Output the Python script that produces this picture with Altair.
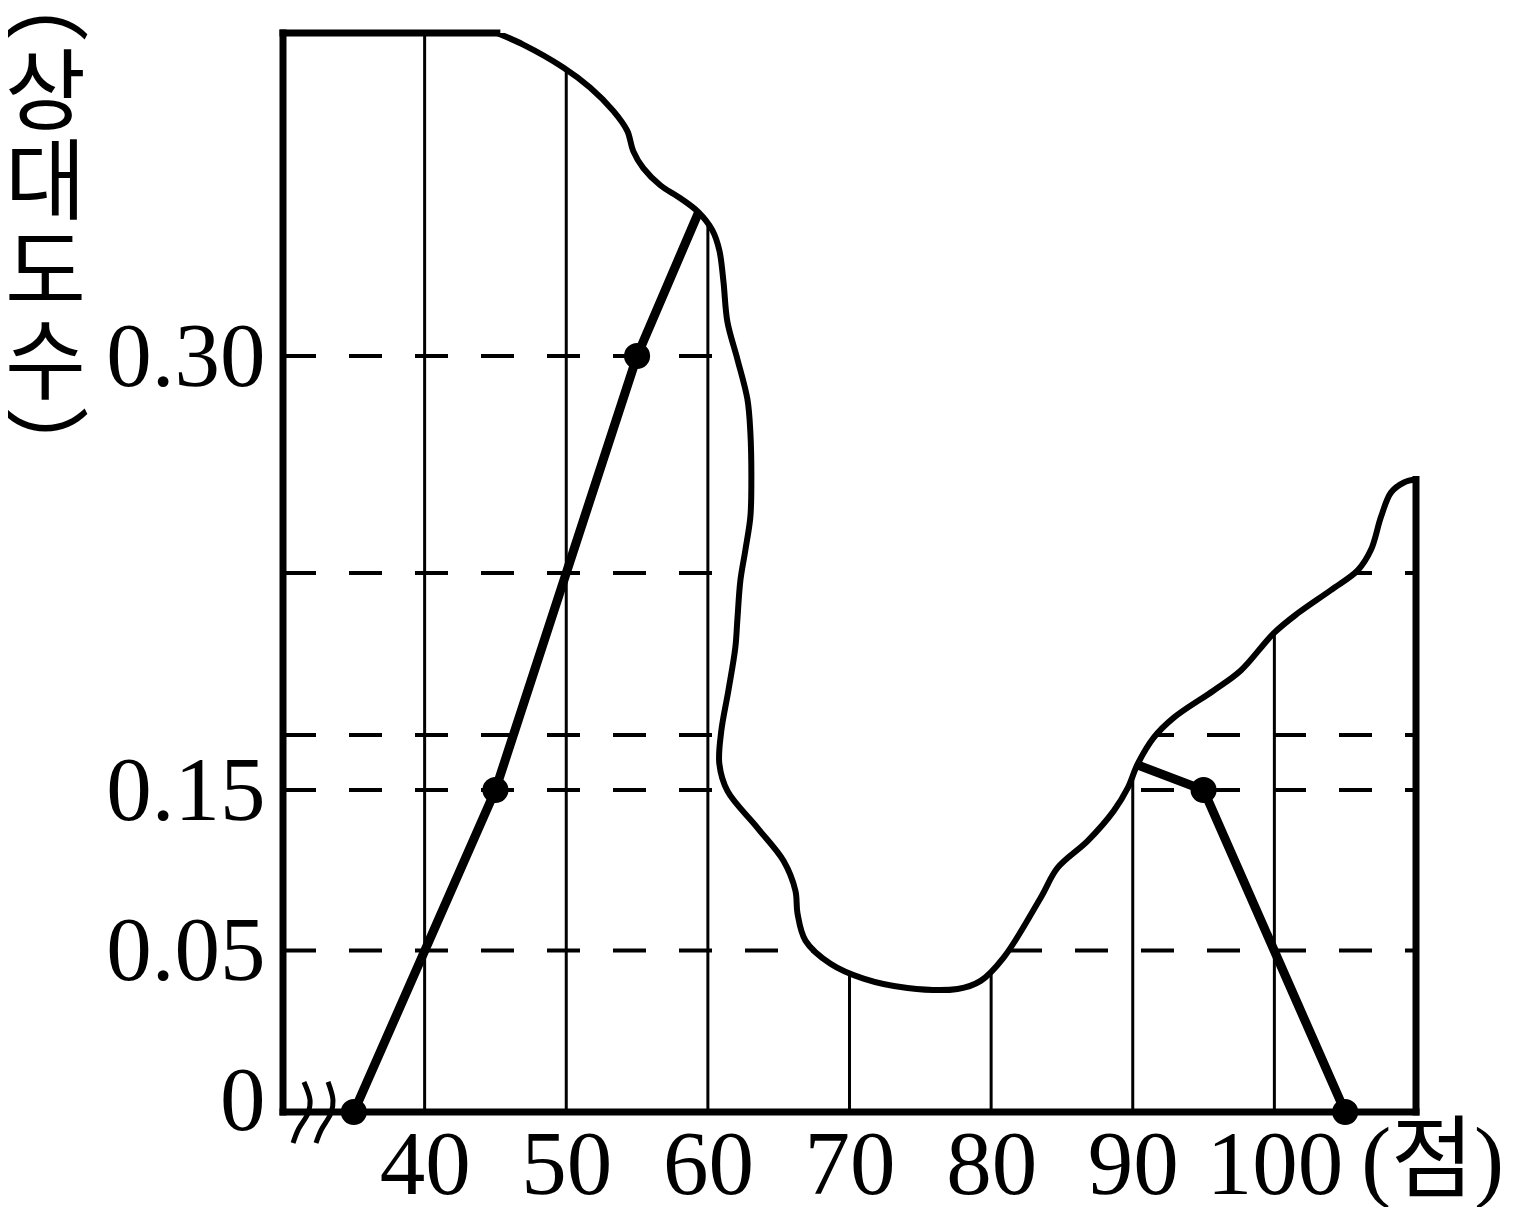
import altair as alt
import pandas as pd

# ---------------- data ----------------
x_ticks = [40, 50, 60, 70, 80, 90, 100]
y_ticks = [0, 0.05, 0.15, 0.30]
dash_levels = [0.05, 0.15, 0.169, 0.225, 0.30]
x_min, x_max = 30, 110
y_top = 0.4116

# frequency polygon (visible points)
point_x = [35, 45, 55, 95, 105]
point_y = [0, 0.15, 0.30, 0.15, 0]
# polygon line pieces (last/first points continue under the torn part)
left_line_x = [35, 45, 55, 62]
left_line_y = [0, 0.15, 0.30, 0.38]
right_line_x = [88, 95, 105]
right_line_y = [0.163, 0.15, 0]

# outline of the torn (hidden) region
blot_x = [45.1, 46.96, 49.79, 51.70, 53.32, 54.31, 54.73, 55.44, 56.64, 58.06,
          59.33, 60.32, 60.81, 61.10, 61.38, 62.08, 62.79, 63.00, 63.07, 63.00,
          62.65, 62.30, 62.08, 61.94, 61.45, 60.95, 60.81, 61.38, 63.50, 65.34,
          66.18, 66.33, 66.89, 68.66, 70.99, 74.10, 77.63, 79.26, 80.88, 83.50,
          84.70, 86.82, 88.66, 89.65, 90.35, 91.48, 92.90, 95.72, 97.63, 99.96,
          101.66, 103.99, 105.90, 106.82, 107.53, 108.23, 109.15, 110.0]
blot_y = [0.4116, 0.4076, 0.3997, 0.3927, 0.3847, 0.3778, 0.3708, 0.3649, 0.3590, 0.3545,
          0.3497, 0.3434, 0.3365, 0.3257, 0.3118, 0.2990, 0.2851, 0.2736, 0.2563, 0.2444,
          0.2330, 0.2226, 0.2087, 0.1993, 0.1844, 0.1705, 0.1590, 0.1494, 0.1264, 0.1059,
          0.0873, 0.0730, 0.0562, 0.0459, 0.0413, 0.0384, 0.0381, 0.0406, 0.0478, 0.0829,
          0.1016, 0.1183, 0.1370, 0.1507, 0.1590, 0.1681, 0.1750, 0.1844, 0.1913, 0.2042,
          0.2111, 0.2191, 0.2260, 0.2330, 0.2444, 0.2528, 0.2563, 0.2573]
# extra corner points that close the torn region along the right and top edges
blot_close_x = [110.0, 110.0, 110.0]
blot_close_y = [0.30, 0.36, y_top]

# axis break marks near the origin
break1_x = [31.48, 31.91, 31.77, 31.06, 30.71]
break2_x = [33.18, 33.53, 33.39, 32.69, 32.33]
break_y = [0.0093, 0.0037, -0.0003, -0.0056, -0.0096]

# frame pieces (left, bottom, top stub, right stub)
frame_x0 = [30, 30, 30, 110]
frame_x1 = [30, 110, 45.1, 110]
frame_y0 = [0, 0, y_top, 0]
frame_y1 = [y_top, 0, y_top, 0.2573]

# ---------------- tables ----------------
df_grid = pd.DataFrame({"x": x_ticks})
df_dash = pd.DataFrame({"y": dash_levels, "x0": x_min, "x1": x_max})
df_lines = pd.DataFrame({
    "x": left_line_x + right_line_x,
    "y": left_line_y + right_line_y,
    "seg": ["L"] * len(left_line_x) + ["R"] * len(right_line_x),
    "ord": list(range(len(left_line_x))) + list(range(len(right_line_x))),
})
df_points = pd.DataFrame({"x": point_x, "y": point_y})
df_blot = pd.DataFrame({"x": blot_x, "y": blot_y, "i": range(len(blot_x))})
df_blot_fill = pd.DataFrame({"x": blot_x + blot_close_x, "y": blot_y + blot_close_y,
                             "i": range(len(blot_x) + len(blot_close_x))})
df_break = pd.DataFrame({
    "x": break1_x + break2_x,
    "y": break_y + break_y,
    "g": ["a"] * len(break1_x) + ["b"] * len(break2_x),
    "i": list(range(len(break1_x))) * 2,
})
df_frame = pd.DataFrame({"x0": frame_x0, "x1": frame_x1, "y0": frame_y0, "y1": frame_y1})

# ---------------- scales / axes ----------------
SERIF = "Liberation Serif"
xscale = alt.Scale(domain=[x_min, x_max], nice=False, zero=False)
yscale = alt.Scale(domain=[0, 0.05, 0.15, 0.30, y_top],
                   range=[1079, 917.5, 757, 323, 0], nice=False, zero=False)

xaxis = alt.Axis(values=x_ticks, labelFont=SERIF, labelFontSize=91, labelPadding=9,
                 labelFlush=False, labelOverlap=False,
                 title="(점)", titleFont="'Liberation Serif', 'Noto Sans CJK KR'",
                 titleFontSize=90, titleFontWeight="normal", titleX=1149, titleY=50,
                 titleAlign="center", titleBaseline="middle")
yaxis = alt.Axis(values=y_ticks,
                 labelExpr="datum.value == 0 ? '0' : format(datum.value, '.2f')",
                 labelFont=SERIF, labelFontSize=91, labelPadding=18,
                 labelFlush=False, labelOverlap=False,
                 labelOffset={"condition": {"test": "datum.value == 0", "value": -10}, "value": 2},
                 title=["︵", "상", "대", "도", "수", "︶"],
                 titleFont="Noto Sans CJK KR", titleFontSize=88, titleLineHeight=90,
                 titleFontWeight="normal", titleAngle=0, titleX=-238, titleY=-72,
                 titleAlign="center", titleBaseline="top")


def X(f="x"):
    return alt.X(f"{f}:Q", scale=xscale, axis=xaxis)


def Y(f="y"):
    return alt.Y(f"{f}:Q", scale=yscale, axis=yaxis)


grid = alt.Chart(df_grid).mark_rule(color="black", strokeWidth=3).encode(x=X())

dashes = alt.Chart(df_dash).mark_rule(color="black", strokeWidth=4, strokeDash=[33, 33]).encode(
    x=X("x0"), x2="x1", y=Y())

lines = alt.Chart(df_lines).mark_line(color="black", strokeWidth=9).encode(
    x=X(), y=Y(), detail="seg:N", order="ord:Q")

blot_fill = alt.Chart(df_blot_fill).mark_line(
    fill="white", stroke="white", strokeOpacity=0, interpolate="catmull-rom", clip=True
).encode(x=X(), y=Y(), order="i:Q")

blot_edge = alt.Chart(df_blot).mark_line(
    color="black", strokeWidth=6, interpolate="catmull-rom", clip=True
).encode(x=X(), y=Y(), order="i:Q")

frame = alt.Chart(df_frame).mark_rule(color="black", strokeWidth=7, strokeCap="square").encode(
    x=X("x0"), x2="x1", y=Y("y0"), y2="y1")

breaks = alt.Chart(df_break).mark_line(
    color="black", strokeWidth=5, interpolate="catmull-rom", clip=False
).encode(x=X(), y=Y(), detail="g:N", order="i:Q")

points = alt.Chart(df_points).mark_circle(color="black", size=680, opacity=1).encode(x=X(), y=Y())

chart = alt.layer(grid, dashes, lines, blot_fill, blot_edge, frame, breaks, points).properties(
    width=1133, height=1079,
    padding={"left": 275, "top": 25, "right": 90, "bottom": 95},
    autosize=alt.AutoSizeParams(type="none"),
    background="white",
).configure_view(strokeWidth=0).configure_axis(
    domain=False, ticks=False, tickSize=0, grid=False, labelColor="black", titleColor="black"
)

chart.save("out.html", embed_options={"renderer": "svg", "actions": False})
